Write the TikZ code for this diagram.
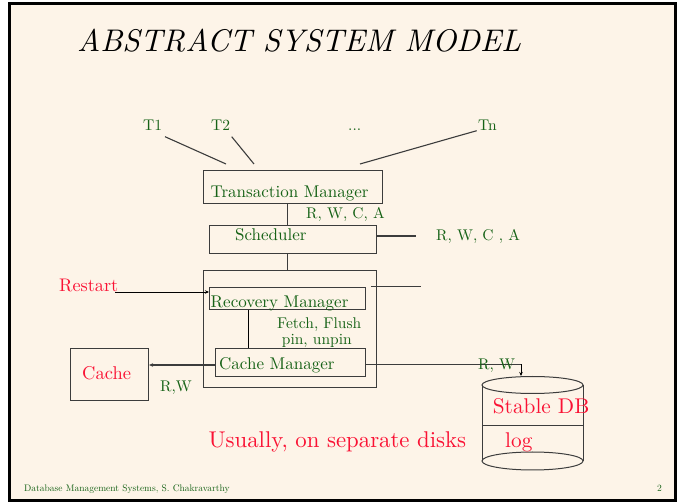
\documentclass[tikz,border=0pt]{standalone}
\usepackage{fontspec}
% one optical size for every text size
\setmainfont{lmroman10}[Extension=.otf, UprightFont=*-regular, ItalicFont=*-italic, BoldFont=*-bold]
\usetikzlibrary{arrows.meta}
\definecolor{slidebg}{RGB}{253,244,232}
\definecolor{txtgreen}{RGB}{22,98,22}
\definecolor{txtred}{RGB}{250,18,52}
\definecolor{linegray}{RGB}{60,60,60}
\tikzset{
  box/.style={draw=linegray, line width=1.1pt, inner sep=0pt, anchor=north west},
  lbl/.style={inner sep=0pt, anchor=base west, text=txtgreen, font=\fontsize{17}{18}\selectfont},
  small/.style={inner sep=0pt, anchor=base west, text=txtgreen, font=\fontsize{15.5}{17}\selectfont},
  redlbl/.style={inner sep=0pt, anchor=base west, text=txtred},
  conn/.style={draw=linegray, line width=1.1pt},
  tip/.style={-{Stealth[length=4pt,width=3.5pt]}},
}
\begin{document}
\begin{tikzpicture}[x=1pt,y=-1pt]
\useasboundingbox (0,0) rectangle (683,502);
% slide frame
\fill[white] (0,0) rectangle (683,502);
\draw[line width=3pt, fill=slidebg] (9,3.5) rectangle (675.5,500.5);

% title
\node[inner sep=0pt, anchor=base west, font=\fontsize{31.3}{36}\itshape\selectfont] (title) at (77,52) {ABSTRACT SYSTEM MODEL};

% transactions
\node[small] (t1) at (143,130.7) {T1};
\node[small] (t2) at (211,130.7) {T2};
\node[small] (tdots) at (348,130.7) {...};
\node[small] (tn) at (478,130.7) {Tn};
\coordinate (t1s) at (165,136.7);
\coordinate (t1e) at (226,164);
\coordinate (t2s) at (231.7,136.7);
\coordinate (t2e) at (254,164);
\coordinate (tns) at (476.7,130.7);
\coordinate (tne) at (360,164);
\draw[conn] (t1s) -- (t1e);
\draw[conn] (t2s) -- (t2e);
\draw[conn] (tns) -- (tne);

% transaction manager
\node[box, minimum width=179pt, minimum height=33pt] (tm) at (203,170) {};
\node[lbl] (tmtxt) at (210.5,197.3) {Transaction Manager};
\node[small] (rwca1) at (306,218.3) {R, W, C, A};

% scheduler
\node[box, minimum width=167pt, minimum height=28pt] (sch) at (209,225) {};
\node[lbl] (schtxt) at (235,241) {Scheduler};
\draw[conn] (tm.south -| 287.3,0) -- (sch.north -| 287.3,0);
\coordinate (schout) at (415.7,236);
\draw[conn] (sch.east |- schout) -- (schout);
\node[small] (rwca2) at (436,241) {R, W, C , A};

% recovery / cache manager group
\node[box, minimum width=173pt, minimum height=117pt] (grp) at (203,270) {};
\draw[conn] (sch.south -| 287.3,0) -- (grp.north -| 287.3,0);

\node[box, minimum width=156pt, minimum height=22pt] (rm) at (209,287) {};
\node[lbl] (rmtxt) at (210.5,307.7) {Recovery Manager};
\coordinate (rmouta) at (371,286.7);
\coordinate (rmoutb) at (421,286.7);
\draw[conn] (rmouta) -- (rmoutb);

\node[redlbl, font=\fontsize{18.2}{20}\selectfont] (restart) at (59,292) {Restart};
\coordinate (rsa) at (115,292);
\draw[conn, line width=0.8pt, tip, draw=black] (rsa) -- (rm.west |- rsa);

\node[box, minimum width=150pt, minimum height=28pt] (cm) at (215,348) {};
\node[lbl] (cmtxt) at (219,370) {Cache Manager};
\draw[conn, line width=0.9pt, draw=black] (rm.south -| 248.3,0) -- (cm.north -| 248.3,0);
\node[small] (ff) at (277,328.3) {Fetch, Flush};
\node[small] (pu) at (281.7,345) {pin, unpin};

% cache
\node[box, minimum width=78pt, minimum height=52pt] (cache) at (70,348) {};
\node[redlbl, font=\fontsize{18.5}{20}\selectfont] (cachetxt) at (82,380) {Cache};
\draw[conn, tip] (cm.west |- 0,365) -- (cache.east |- 0,365);
\node[small] (rw1) at (160,392) {R,W};

% stable storage cylinder
\coordinate (dbl) at (482,385);
\coordinate (dbr) at (583,385);
\coordinate (dbbl) at (482,461);
\coordinate (dbbr) at (583,461);
\coordinate (dbtop) at (521,376);
\draw[conn, line width=1pt] (532.5,385) ellipse [x radius=50.5pt, y radius=8.5pt];
\draw[conn, line width=1pt] (dbl) -- (dbbl);
\draw[conn, line width=1pt] (dbr) -- (dbbr);
\draw[conn, line width=1pt] (482,426) -- (583,426);
\draw[conn, line width=1pt] (532.5,461) ellipse [x radius=50.5pt, y radius=9pt];
\node[redlbl, font=\fontsize{21.3}{24}\selectfont] (stable) at (492.7,414) {Stable DB};
\node[redlbl, font=\fontsize{21.3}{24}\selectfont] (log) at (505,447.7) {log};

\coordinate (rwbend) at (521,364.3);
\draw[conn] (cm.east |- rwbend) -- (rwbend);
\draw[line width=0.8pt, tip] (rwbend) -- (dbtop);
\node[small] (rw2) at (478,370) {R, W};

\node[redlbl, font=\fontsize{22.8}{24}\selectfont] (usually) at (208.3,447.3) {Usually, on separate disks};

% footer
\node[inner sep=0pt, anchor=base west, text=txtgreen, font=\fontsize{9.5}{11}\selectfont] (footer) at (24,491.7) {Database Management Systems, S. Chakravarthy};
\node[inner sep=0pt, anchor=base west, text=txtgreen, font=\fontsize{9.5}{11}\selectfont] (pageno) at (657,491.7) {2};
\end{tikzpicture}
\end{document}
